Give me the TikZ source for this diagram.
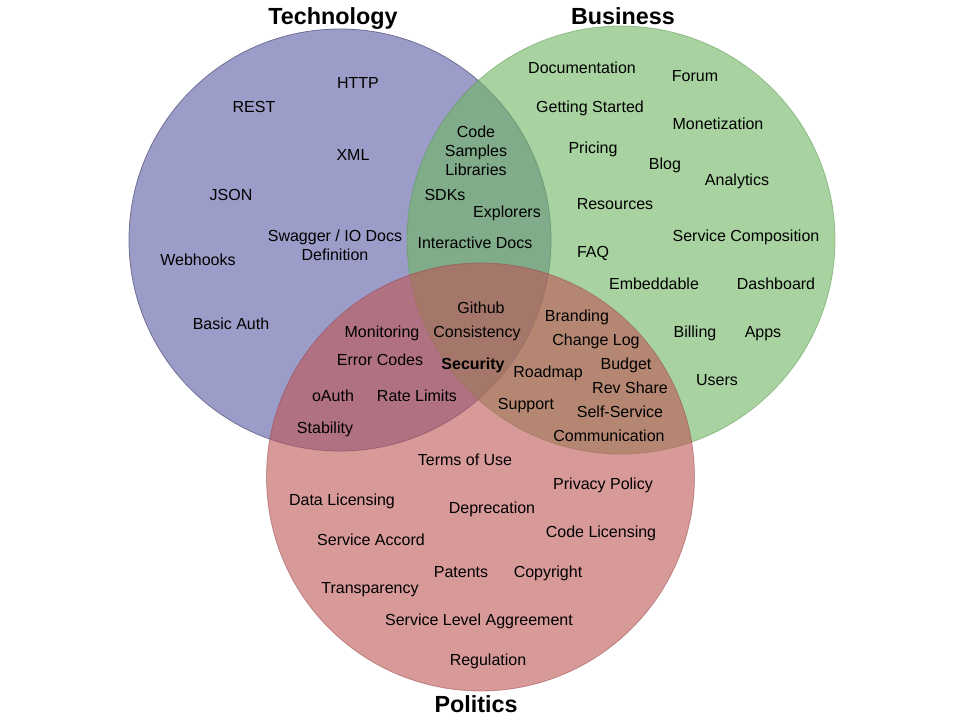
\documentclass[tikz,border=0pt]{standalone}
\usepackage{fontspec}
\setmainfont{Liberation Sans}
\definecolor{techcol}{RGB}{156,156,200}
\definecolor{techedge}{RGB}{110,110,150}
\definecolor{buscol}{RGB}{110,183,97}
\definecolor{busedge}{RGB}{90,150,80}
\definecolor{polcol}{RGB}{190,85,85}
\definecolor{poledge}{RGB}{150,70,70}
\begin{document}
\begin{tikzpicture}[x=0.75pt,y=-0.75pt,
  item/.style={inner sep=0pt,text height=0.716em,text depth=0pt,align=center,
    yshift=-1.5pt,font=\fontsize{12}{14.25}\selectfont},
  title/.style={inner sep=0pt,text height=0.716em,text depth=0pt,yshift=-3pt,
    font=\fontsize{17.5}{20}\selectfont\bfseries}]
\useasboundingbox[fill=white] (0,0) rectangle (960,720);
% circles
\fill[techcol] (340,240) circle[radius=158.25pt];
\draw[techedge,line width=0.6pt] (340,240) circle[radius=158.25pt];
\fill[buscol,fill opacity=0.6] (621,240) circle[radius=160.5pt];
\draw[busedge,line width=0.6pt,opacity=0.5] (621,240) circle[radius=160.5pt];
\fill[polcol,fill opacity=0.6] (480.5,477) circle[radius=160.5pt];
\draw[poledge,line width=0.6pt,opacity=0.5] (480.5,477) circle[radius=160.5pt];
% titles
\node[title] (tTech) at (333,16) {Technology};
\node[title] (tBus) at (623,16) {Business};
\node[title] (tPol) at (476,704) {Politics};
% Technology
\node[item] (http) at (358,82) {HTTP};
\node[item] (rest) at (254,106) {REST};
\node[item] (xml) at (353,154) {XML};
\node[item] (json) at (231,194) {JSON};
\node[item] (swag) at (335,253.5) {Swagger / IO Docs\\Definition};
\node[item] (webh) at (198,259) {Webhooks};
\node[item] (basic) at (231,323) {Basic Auth};
% Tech & Business
\node[item] (code) at (476,169) {Code\\Samples\\Libraries};
\node[item] (sdks) at (445,194) {SDKs};
\node[item] (expl) at (507,211) {Explorers};
\node[item] (inter) at (475,242) {Interactive Docs};
% Business
\node[item] (docu) at (582,67) {Documentation};
\node[item] (forum) at (695,75) {Forum};
\node[item] (gets) at (590,106) {Getting Started};
\node[item] (monet) at (718,123) {Monetization};
\node[item] (pric) at (593,147) {Pricing};
\node[item] (blog) at (665,163) {Blog};
\node[item] (anal) at (737,179) {Analytics};
\node[item] (reso) at (615,203) {Resources};
\node[item] (scomp) at (746,235) {Service Composition};
\node[item] (faq) at (593,251) {FAQ};
\node[item] (embed) at (654,283) {Embeddable};
\node[item] (dash) at (776,283) {Dashboard};
\node[item] (bill) at (695,331) {Billing};
\node[item] (apps) at (763,331) {Apps};
\node[item] (users) at (717,379) {Users};
% Tech & Politics
\node[item] (moni) at (382,331) {Monitoring};
\node[item] (errc) at (380,359) {Error Codes};
\node[item] (oauth) at (333,395) {oAuth};
\node[item] (ratel) at (417,395) {Rate Limits};
\node[item] (stab) at (325,427) {Stability};
% all three
\node[item] (gith) at (481,307) {Github};
\node[item] (cons) at (477,331) {Consistency};
\node[item,font=\fontsize{12}{14.25}\selectfont\bfseries] (secu) at (473,363) {Security};
% Business & Politics
\node[item] (brand) at (577,315) {Branding};
\node[item] (chlog) at (596,339) {Change Log};
\node[item] (road) at (548,371) {Roadmap};
\node[item] (budg) at (626,363) {Budget};
\node[item] (revs) at (630,387) {Rev Share};
\node[item] (supp) at (526,403) {Support};
\node[item] (selfs) at (620,411) {Self-Service};
\node[item] (comm) at (609,435) {Communication};
% Politics
\node[item] (terms) at (465,459) {Terms of Use};
\node[item] (priv) at (603,483) {Privacy Policy};
\node[item] (datal) at (342,499) {Data Licensing};
\node[item] (depr) at (492,507) {Deprecation};
\node[item] (codel) at (601,531) {Code Licensing};
\node[item] (sacc) at (371,539) {Service Accord};
\node[item] (pat) at (461,571) {Patents};
\node[item] (copy) at (548,571) {Copyright};
\node[item] (trans) at (370,587) {Transparency};
\node[item] (sla) at (479,619) {Service Level Aggreement};
\node[item] (regu) at (488,659) {Regulation};
\end{tikzpicture}
\end{document}
